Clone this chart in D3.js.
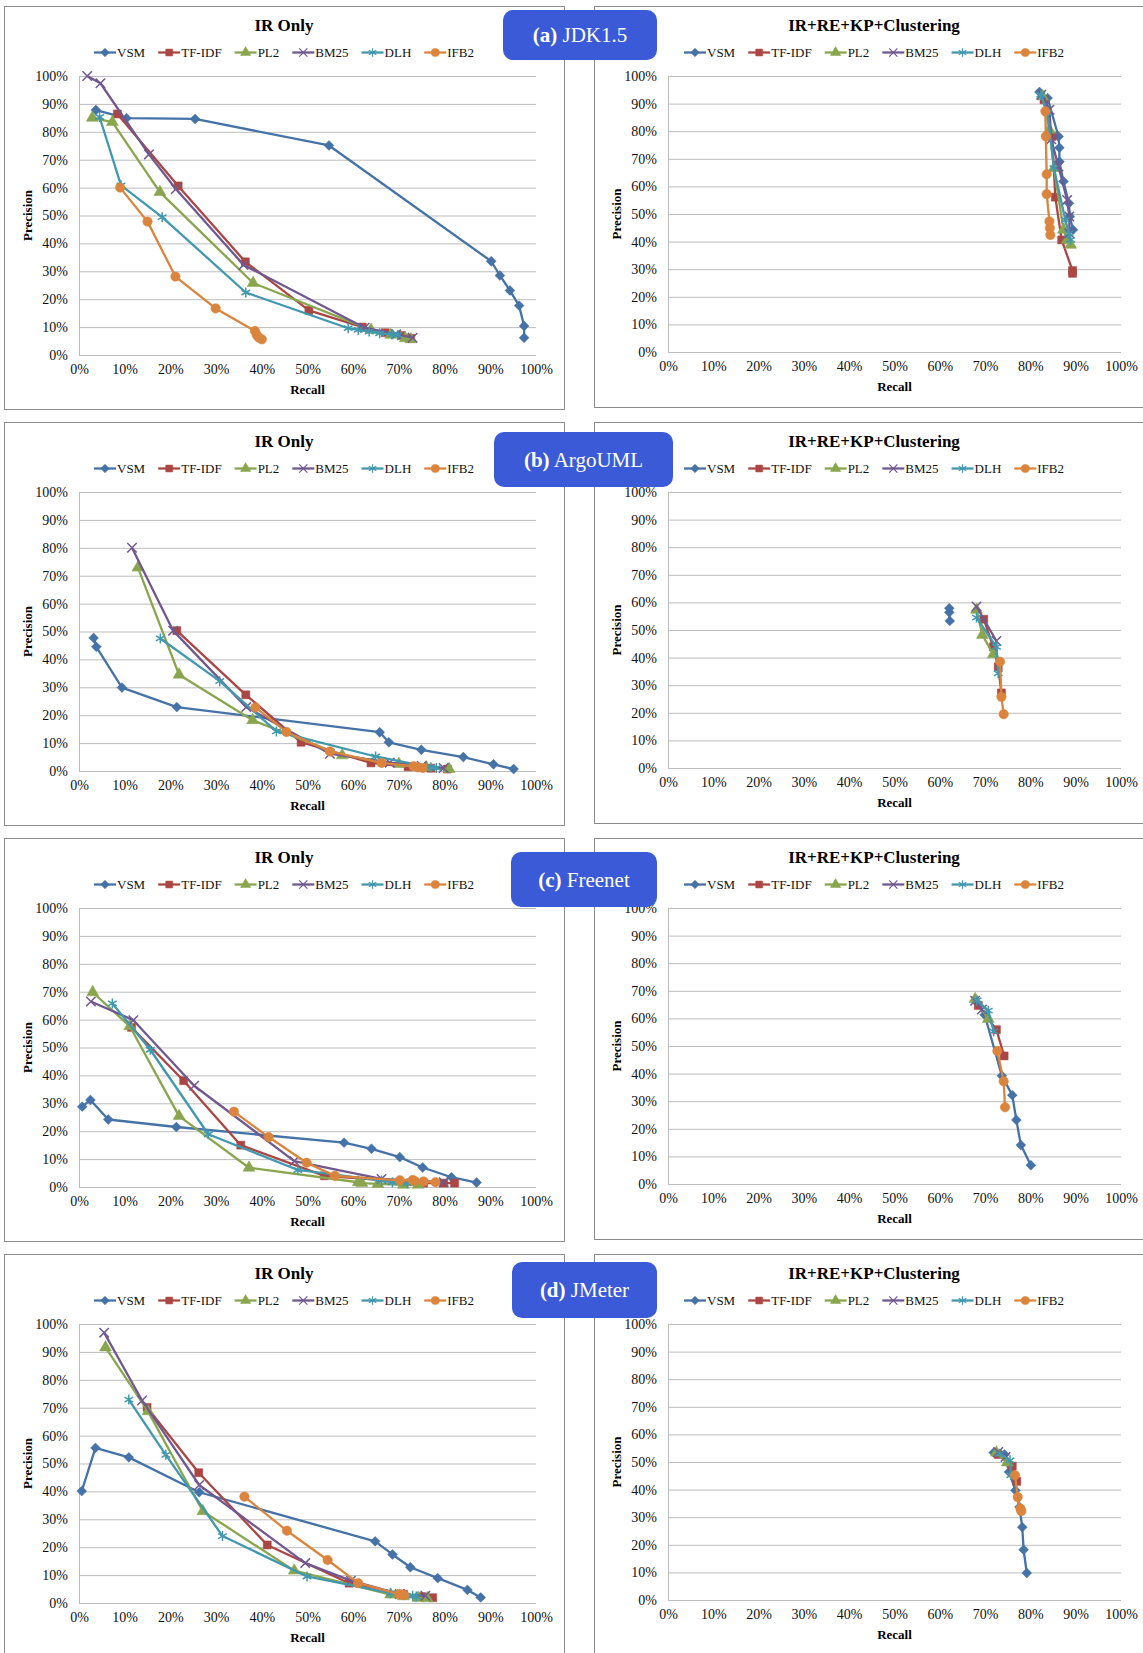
<!DOCTYPE html>
<html>
<head>
<meta charset="utf-8">
<script src="https://cdn.jsdelivr.net/npm/d3@7"></script>
<style>
  body { margin: 0; background: #fff; }
  svg { display: block; font-family: "Liberation Serif", "Times New Roman", serif; }
</style>
</head>
<body>
<svg id="chart" width="1143" height="1653"></svg>
<script>
// Series, in legend order
const methods = ["VSM", "TF-IDF", "PL2", "BM25", "DLH", "IFB2"];
const projectTags = ["(a)", "(b)", "(c)", "(d)"];
const projectNames = ["JDK1.5", "ArgoUML", "Freenet", "JMeter"];
const panelTitles = ["IR Only", "IR+RE+KP+Clustering"];
const tickValues = [0, 10, 20, 30, 40, 50, 60, 70, 80, 90, 100];

// [recall %, precision %] for each method
const jdkIrOnly = [
  [[3.7, 87.8], [10.4, 84.9], [25.4, 84.6], [54.7, 75.1], [90.2, 33.6], [92.1, 28.5], [94.3, 23.1], [96.3, 17.7], [97.4, 10.4], [97.4, 6.2]],
  [[8.4, 86.4], [21.7, 60.6], [36.4, 33.4], [50.3, 16.0], [62.0, 10.0], [67.0, 8.0], [70.5, 7.0], [72.6, 6.0]],
  [[2.9, 85.0], [7.3, 83.5], [17.7, 58.4], [38.1, 25.8], [63.9, 9.0], [68.2, 7.2], [71.4, 6.0], [72.6, 5.6]],
  [[1.8, 100], [4.7, 97.4], [15.3, 71.9], [21.2, 59.5], [36.0, 32.3], [62.5, 9.8], [69.4, 7.4], [73.0, 6.2]],
  [[4.5, 85.3], [9.2, 60.8], [18.2, 49.4], [36.5, 22.4], [58.9, 9.6], [61.1, 9.0], [63.5, 8.4], [65.8, 7.8], [68.6, 7.4], [69.8, 7.2]],
  [[9.0, 60.0], [15.0, 47.8], [21.1, 28.1], [29.9, 16.7], [38.5, 8.6], [38.9, 7.2], [39.3, 6.3], [40.0, 5.6]]
];
const jdkClustering = [
  [[82.0, 94.2], [83.8, 92.0], [86.2, 78.1], [86.4, 74.0], [86.4, 69.0], [87.3, 61.8], [88.5, 53.9], [88.7, 49.1], [89.4, 44.3]],
  [[83.0, 91.4], [84.8, 78.1], [85.5, 56.1], [86.9, 40.6], [89.3, 29.5], [89.3, 28.5]],
  [[82.7, 92.6], [84.2, 80.5], [85.2, 66.6], [87.3, 44.3], [88.1, 40.6], [88.9, 38.8]],
  [[82.4, 93.2], [84.2, 87.8], [84.6, 77.1], [86.2, 67.2], [88.1, 55.1], [88.6, 49.1], [88.6, 43.0]],
  [[82.3, 93.2], [83.8, 86.6], [85.2, 66.6], [87.7, 47.9], [88.5, 43.0], [88.9, 40.6]],
  [[83.3, 87.2], [83.4, 78.1], [83.6, 64.4], [83.6, 57.2], [84.2, 47.3], [84.3, 44.9], [84.4, 42.4]]
];
const argoIrOnly = [
  [[3.2, 47.7], [3.8, 44.5], [9.4, 29.9], [21.4, 22.9], [65.8, 13.9], [67.8, 10.3], [74.9, 7.6], [84.1, 5.0], [90.7, 2.4], [95.1, 0.7]],
  [[21.4, 50.3], [36.5, 27.3], [48.6, 10.3], [63.9, 2.9], [72.0, 1.5], [77.0, 1.0], [80.6, 0.7]],
  [[12.9, 72.9], [21.9, 34.5], [38.0, 18.2], [57.6, 5.6], [70.0, 2.5], [76.0, 1.3], [81.0, 0.7]],
  [[11.6, 80.0], [20.6, 50.3], [36.6, 22.9], [54.9, 6.2], [68.0, 3.0], [75.0, 1.8], [79.8, 1.1]],
  [[17.8, 47.5], [30.8, 32.2], [43.2, 14.2], [64.9, 5.2], [77.0, 1.3], [78.2, 1.1]],
  [[38.6, 22.8], [45.4, 14.0], [54.9, 7.0], [66.2, 2.9], [73.2, 1.7], [74.2, 1.3], [75.2, 1.1]]
];
const argoClustering = [
  [[62.1, 57.9], [62.1, 56.4], [62.2, 53.3]],
  [[69.7, 53.9], [71.8, 43.9], [72.9, 36.7], [73.6, 27.2]],
  [[68.1, 57.3], [69.4, 48.2], [71.8, 41.2]],
  [[68.1, 58.5], [72.5, 46.0]],
  [[68.1, 54.5], [72.5, 43.9], [72.9, 34.3]],
  [[73.3, 38.5], [73.6, 25.8], [74.1, 19.5]]
];
const freenetIrOnly = [
  [[0.7, 28.8], [2.5, 31.2], [6.4, 24.2], [21.3, 21.5], [58.0, 15.9], [64.0, 13.7], [70.2, 10.7], [75.2, 7.0], [81.5, 3.5], [87.0, 1.6]],
  [[11.5, 57.2], [22.9, 38.1], [35.4, 15.0], [53.7, 4.0], [75.4, 1.4], [79.8, 1.4], [82.2, 1.4]],
  [[3.0, 69.8], [11.1, 57.6], [21.9, 25.4], [37.2, 6.9], [61.1, 1.7], [61.9, 1.4], [65.4, 1.1], [71.0, 0.8], [74.2, 0.8]],
  [[2.6, 66.5], [11.9, 59.8], [25.2, 36.3], [47.1, 9.3], [66.2, 2.9], [79.8, 1.7]],
  [[7.3, 65.8], [15.6, 49.2], [28.3, 18.9], [47.9, 6.1], [66.2, 2.3], [68.6, 1.7], [71.8, 1.3]],
  [[33.9, 27.0], [41.5, 17.9], [49.8, 8.7], [56.0, 4.0], [70.2, 2.4], [73.0, 2.5], [73.4, 2.2], [75.4, 2.0], [78.0, 1.7]]
];
const freenetClustering = [
  [[67.8, 66.5], [69.9, 61.3], [73.7, 39.2], [76.0, 32.2], [76.9, 23.2], [77.9, 14.1], [80.1, 6.8]],
  [[68.5, 64.7], [72.5, 55.9], [74.2, 46.4]],
  [[67.8, 67.0], [70.7, 59.8]],
  [[67.8, 66.4], [69.3, 63.2]],
  [[68.2, 66.5], [70.7, 62.8], [71.9, 55.3]],
  [[72.7, 48.2], [74.1, 37.2], [74.4, 27.8]]
];
const jmeterIrOnly = [
  [[0.6, 40.1], [3.6, 55.6], [10.9, 52.2], [26.3, 39.7], [64.8, 22.1], [68.6, 17.4], [72.5, 12.8], [78.5, 8.9], [85.0, 4.7], [87.9, 2.0]],
  [[14.9, 70.1], [26.2, 46.7], [41.2, 20.8], [59.1, 7.1], [71.0, 3.2], [75.0, 2.3], [77.4, 1.9]],
  [[5.8, 91.6], [15.1, 68.7], [27.1, 32.9], [47.1, 11.6], [68.2, 3.0], [71.0, 2.4], [74.2, 1.8], [76.2, 1.7]],
  [[5.5, 96.9], [13.8, 72.6], [26.3, 42.3], [49.5, 14.3], [59.5, 8.0], [70.2, 3.2], [75.8, 2.6]],
  [[10.9, 72.9], [19.0, 53.1], [31.4, 24.0], [49.9, 9.5], [68.2, 3.5], [73.0, 2.6], [73.8, 2.3]],
  [[36.2, 38.1], [45.5, 25.9], [54.4, 15.4], [61.1, 7.1], [70.0, 3.2], [70.6, 3.0], [71.2, 2.8]]
];
const jmeterClustering = [
  [[71.9, 53.4], [74.3, 52.7], [75.3, 46.4], [76.7, 39.7], [77.6, 33.7], [78.2, 26.4], [78.5, 18.2], [79.2, 9.8]],
  [[72.9, 52.7], [76.0, 48.5], [77.0, 43.0]],
  [[72.5, 53.4], [74.9, 49.8]],
  [[72.9, 53.6], [74.5, 51.8]],
  [[73.2, 53.0], [75.5, 50.6], [75.7, 45.2]],
  [[76.6, 45.2], [77.2, 37.3], [77.8, 33.1], [78.0, 32.2]]
];

const panelData = [
  [jdkIrOnly, jdkClustering],
  [argoIrOnly, argoClustering],
  [freenetIrOnly, freenetClustering],
  [jmeterIrOnly, jmeterClustering]
];

// Styles
const colors = ["#4572a7", "#aa4643", "#89a54e", "#71588f", "#4198af", "#db843d"];
const symbolTypes = [d3.symbolDiamond2, d3.symbolSquare, d3.symbolTriangle, d3.symbolTimes, d3.symbolAsterisk, d3.symbolCircle];
const symbolSizes = [62, 64, 62, 60, 70, 70];
const strokeSymbol = [false, false, false, true, true, false];
const gridColor = "#bdbdbd";
const borderColor = "#8a8a8a";
const tagFill = "#3a5ad8";

// Layout
const rowPitch = 416;
const columns = [
  { boxX: 4, boxW: 560, boxH: 403, plotX0: 79, plotX1: 536, plotBottom: 355 },
  { boxX: 594, boxW: 560, boxH: 401, plotX0: 668, plotX1: 1121, plotBottom: 352 }
];
const tagBoxes = [
  { x: 503, y: 10, w: 154, h: 50 },
  { x: 494, y: 16, w: 179, h: 55 },
  { x: 511, y: 20, w: 146, h: 55 },
  { x: 512, y: 14, w: 145, h: 56 }
];

const svg = d3.select("#chart");
const formatPercent = (d) => `${d}%`;

panelData.forEach((row, r) => {
  const offsetY = r * rowPitch;
  row.forEach((series, c) => {
    const col = columns[c];
    const g = svg.append("g").attr("class", "panel");
    const top = 76 + offsetY;
    const bottom = col.plotBottom + offsetY;
    const centerX = col.boxX + col.boxW / 2;

    // Panel border
    g.append("rect")
      .attr("x", col.boxX + 0.5)
      .attr("y", 6 + offsetY + 0.5)
      .attr("width", col.boxW)
      .attr("height", col.boxH)
      .attr("fill", "#fff")
      .attr("stroke", borderColor);

    const xScale = d3.scaleLinear().domain([0, 100]).range([col.plotX0, col.plotX1]);
    const yScale = d3.scaleLinear().domain([0, 100]).range([bottom, top]);

    // Y axis with gridlines
    const yAxisG = g.append("g")
      .attr("transform", `translate(${col.plotX0},0)`)
      .call(d3.axisLeft(yScale).tickValues(tickValues).tickFormat(formatPercent)
        .tickSize(-(col.plotX1 - col.plotX0)).tickPadding(11));
    yAxisG.select(".domain").remove();
    yAxisG.selectAll(".tick line").attr("stroke", gridColor);
    yAxisG.selectAll(".tick text")
      .attr("font-family", "Liberation Serif")
      .attr("font-size", 14)
      .attr("fill", "#111");

    // Vertical axis line
    g.append("line")
      .attr("x1", col.plotX0 + 0.5).attr("x2", col.plotX0 + 0.5)
      .attr("y1", top).attr("y2", bottom)
      .attr("stroke", gridColor);

    // X axis
    const xAxisG = g.append("g")
      .attr("transform", `translate(0,${bottom})`)
      .call(d3.axisBottom(xScale).tickValues(tickValues).tickFormat(formatPercent)
        .tickSize(0).tickPadding(9));
    xAxisG.select(".domain").remove();
    xAxisG.selectAll(".tick text")
      .attr("font-family", "Liberation Serif")
      .attr("font-size", 14)
      .attr("fill", "#111");

    // Title
    g.append("text")
      .attr("x", centerX)
      .attr("y", 31 + offsetY)
      .attr("text-anchor", "middle")
      .attr("font-size", 17)
      .attr("font-weight", "bold")
      .text(panelTitles[c]);

    // Axis titles
    g.append("text")
      .attr("x", (col.plotX0 + col.plotX1) / 2)
      .attr("y", bottom + 39)
      .attr("text-anchor", "middle")
      .attr("font-size", 13)
      .attr("font-weight", "bold")
      .text("Recall");

    g.append("text")
      .attr("transform", `translate(${col.plotX0 - 47},${(top + bottom) / 2}) rotate(-90)`)
      .attr("text-anchor", "middle")
      .attr("font-size", 13)
      .attr("font-weight", "bold")
      .text("Precision");

    // Series lines and markers
    const line = d3.line().x((d) => xScale(d[0])).y((d) => yScale(d[1]));
    series.forEach((points, i) => {
      const sg = g.append("g").attr("class", "series");
      sg.append("path")
        .attr("d", line(points))
        .attr("fill", "none")
        .attr("stroke", colors[i])
        .attr("stroke-width", 2.3)
        .attr("stroke-linejoin", "round");
      sg.selectAll("path.marker")
        .data(points)
        .join("path")
        .attr("class", "marker")
        .attr("transform", (d) => `translate(${xScale(d[0])},${yScale(d[1])})`)
        .attr("d", d3.symbol().type(symbolTypes[i]).size(symbolSizes[i]))
        .attr("fill", strokeSymbol[i] ? "none" : colors[i])
        .attr("stroke", colors[i])
        .attr("stroke-width", strokeSymbol[i] ? 1.5 : 0.5);
    });

    // Legend
    const legendY = 52.5 + offsetY;
    const legend = g.append("g").attr("class", "legend");
    const items = legend.selectAll("g")
      .data(methods)
      .join("g");
    items.append("line")
      .attr("x1", 0).attr("x2", 22)
      .attr("stroke", (d, i) => colors[i])
      .attr("stroke-width", 2.3);
    items.append("path")
      .attr("transform", "translate(11,0)")
      .attr("d", (d, i) => d3.symbol().type(symbolTypes[i]).size(symbolSizes[i] * 0.75)())
      .attr("fill", (d, i) => strokeSymbol[i] ? "none" : colors[i])
      .attr("stroke", (d, i) => colors[i])
      .attr("stroke-width", (d, i) => strokeSymbol[i] ? 1.2 : 0.5);
    items.append("text")
      .attr("x", 23)
      .attr("y", 4.5)
      .attr("font-size", 13)
      .attr("fill", "#111")
      .text((d) => d);

    let cursor = 0;
    const offsets = [];
    items.each(function () {
      offsets.push(cursor);
      const w = d3.select(this).select("text").node().getComputedTextLength();
      cursor += 23 + w + 13;
    });
    const legendWidth = cursor - 13;
    const legendX0 = centerX - legendWidth / 2;
    items.attr("transform", (d, i) => `translate(${legendX0 + offsets[i]},${legendY})`);
  });

  // Project tag box spanning both panels
  const tb = tagBoxes[r];
  const tag = svg.append("g").attr("class", "tag");
  tag.append("rect")
    .attr("x", tb.x)
    .attr("y", tb.y + offsetY)
    .attr("width", tb.w)
    .attr("height", tb.h)
    .attr("rx", 10)
    .attr("fill", tagFill);
  const tagText = tag.append("text")
    .attr("x", tb.x + tb.w / 2)
    .attr("y", tb.y + offsetY + tb.h / 2 + 7)
    .attr("text-anchor", "middle")
    .attr("font-size", 21)
    .attr("fill", "#fff");
  tagText.append("tspan").attr("font-weight", "bold").text(projectTags[r]);
  tagText.append("tspan").text(" " + projectNames[r]);
});
</script>
</body>
</html>
